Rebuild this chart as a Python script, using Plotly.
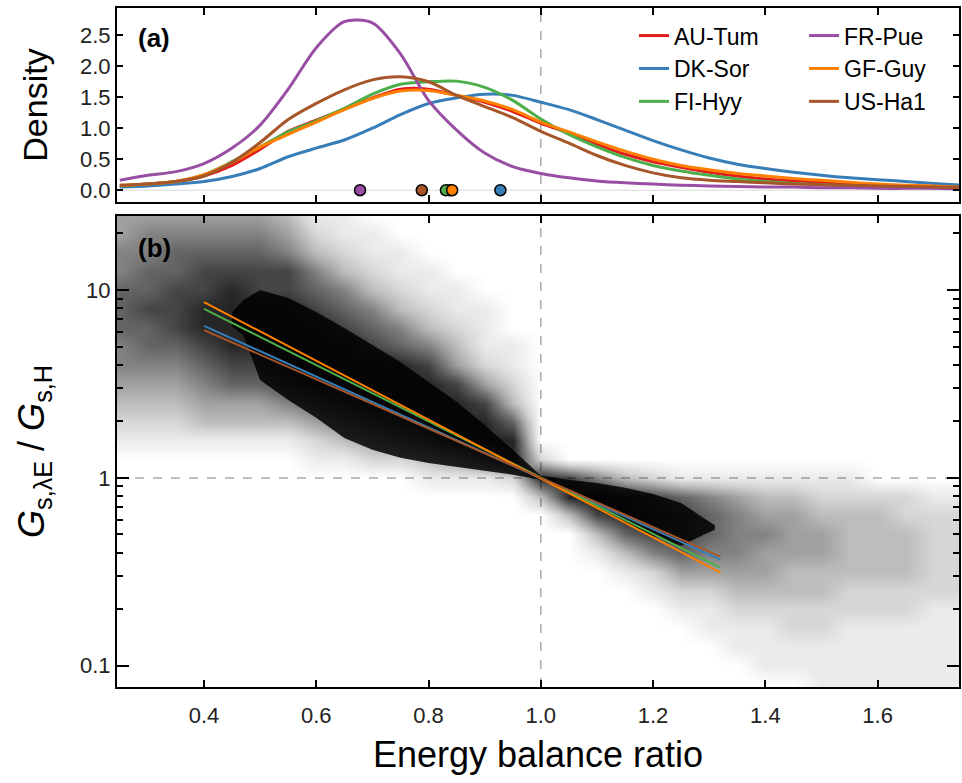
import plotly.graph_objects as go

# ---- sites and colours -------------------------------------------------
sites = ["AU-Tum", "DK-Sor", "FI-Hyy", "FR-Pue", "GF-Guy", "US-Ha1"]
site_colors = ["#e41a1c", "#377eb8", "#4daf4a", "#984ea3", "#ff7f00", "#a65628"]

# ---- (a) density of the energy balance ratio ---------------------------
ebr_grid = [0.25, 0.30, 0.35, 0.40, 0.45, 0.50, 0.55, 0.60, 0.65, 0.70, 0.75,
            0.80, 0.85, 0.90, 0.95, 1.00, 1.05, 1.10, 1.15, 1.20, 1.25, 1.30,
            1.35, 1.40, 1.45, 1.50, 1.55, 1.60, 1.65, 1.70, 1.75]

dens_au_tum = [0.07, 0.10, 0.14, 0.23, 0.40, 0.66, 0.95, 1.13, 1.31, 1.49, 1.63,
               1.63, 1.53, 1.42, 1.27, 1.08, 0.92, 0.74, 0.58, 0.46, 0.37, 0.29,
               0.23, 0.18, 0.15, 0.13, 0.11, 0.09, 0.07, 0.06, 0.05]
dens_dk_sor = [0.05, 0.07, 0.10, 0.14, 0.22, 0.35, 0.54, 0.68, 0.81, 1.00, 1.22,
               1.40, 1.49, 1.55, 1.53, 1.42, 1.30, 1.14, 0.97, 0.80, 0.65, 0.52,
               0.42, 0.35, 0.29, 0.24, 0.20, 0.17, 0.14, 0.11, 0.08]
dens_fi_hyy = [0.07, 0.10, 0.14, 0.25, 0.46, 0.70, 0.94, 1.12, 1.32, 1.55, 1.71,
               1.75, 1.76, 1.66, 1.45, 1.15, 0.90, 0.70, 0.53, 0.40, 0.31, 0.24,
               0.18, 0.14, 0.11, 0.09, 0.07, 0.06, 0.05, 0.04, 0.03]
dens_fr_pue = [0.16, 0.24, 0.30, 0.43, 0.68, 1.05, 1.63, 2.30, 2.72, 2.70, 2.20,
               1.45, 0.97, 0.60, 0.38, 0.27, 0.20, 0.15, 0.12, 0.10, 0.08, 0.07,
               0.06, 0.05, 0.05, 0.04, 0.04, 0.03, 0.03, 0.03, 0.02]
dens_gf_guy = [0.08, 0.10, 0.14, 0.25, 0.45, 0.70, 0.90, 1.10, 1.30, 1.48, 1.60,
               1.61, 1.53, 1.44, 1.30, 1.10, 0.94, 0.78, 0.63, 0.50, 0.40, 0.33,
               0.27, 0.23, 0.19, 0.16, 0.13, 0.10, 0.08, 0.07, 0.05]
dens_us_ha1 = [0.08, 0.10, 0.14, 0.23, 0.45, 0.77, 1.14, 1.40, 1.62, 1.78, 1.83,
               1.75, 1.53, 1.35, 1.17, 0.95, 0.76, 0.56, 0.40, 0.28, 0.20, 0.16,
               0.14, 0.12, 0.10, 0.09, 0.08, 0.07, 0.06, 0.05, 0.05]
densities = [dens_au_tum, dens_dk_sor, dens_fi_hyy, dens_fr_pue, dens_gf_guy, dens_us_ha1]

# site means of the energy balance ratio (dots on the zero line)
mean_ebr = [0.838, 0.928, 0.831, 0.678, 0.842, 0.788]

# ---- (b) conductance ratio vs energy balance ratio ---------------------
# point density of the half-hourly cloud, 0 (empty) .. 9 (saturated);
# columns: energy balance ratio 0.25 .. 1.75 step 0.05 (trailing zeros omitted),
# rows: log10 of the conductance ratio from 1.4 (top) down to -1.1
cloud_ebr = ebr_grid
cloud_log_ratio = [1.4, 1.3, 1.2, 1.1, 1.0, 0.9, 0.8, 0.7, 0.6, 0.5, 0.4, 0.3, 0.2,
                   0.1, 0.0, -0.1, -0.2, -0.3, -0.4, -0.5, -0.6, -0.7, -0.8, -0.9,
                   -1.0, -1.1]
cloud_density_rows = [
    "4444443110",
    "4555554211",
    "55666653211",
    "566777753211",
    "6677877653211",
    "677888876532110",
    "667888887653210",
    "566788888765311",
    "555677888887421",
    "444566788888742",
    "333444567888873",
    "222333345678886",
    "111111123456888",
    "0000000112234682",
    "0000000000011128753211111110000",
    "0000000000000003898765433222211",
    "0000000000000000378876544333222",
    "0000000000000000036776554433322",
    "0000000000000000013565544433322",
    "0000000000000000001244443333322",
    "0000000000000000000122333322222",
    "0000000000000000000011222222211",
    "0000000000000000000001112211111",
    "0000000000000000000000111111111",
    "0000000000000000000000011111111",
    "0000000000000000000000000111111",
]

# saturated core of the cloud (upper / lower edge)
core_ebr = [0.45, 0.47, 0.50, 0.55, 0.60, 0.65, 0.70, 0.75, 0.80, 0.85, 0.90, 0.95,
            1.00, 1.05, 1.10, 1.15, 1.20, 1.25, 1.29, 1.31]
core_hi = [7.6, 8.85, 10.0, 9.07, 7.64, 6.28, 5.10, 4.14, 3.24, 2.54, 1.91, 1.41,
           1.025, 0.976, 0.94, 0.885, 0.82, 0.736, 0.612, 0.56]
core_lo = [6.4, 5.76, 3.32, 2.60, 2.09, 1.63, 1.41, 1.28, 1.20, 1.14, 1.09, 1.04,
           0.976, 0.82, 0.68, 0.57, 0.491, 0.435, 0.498, 0.53]

# per-site fitted lines (end points), drawn on top of the cloud
fit_x = [0.40, 1.32]
fit_dk_sor = [6.45, 0.367]
fit_fi_hyy = [7.93, 0.333]
fit_gf_guy = [8.63, 0.313]
fit_us_ha1 = [6.12, 0.381]
fit_lines = [(fit_dk_sor, "#377eb8"), (fit_fi_hyy, "#4daf4a"),
             (fit_gf_guy, "#ff7f00"), (fit_us_ha1, "#a65628")]

FONT = "Liberation Sans, Arial, sans-serif"

fig = go.Figure()

# panel (b): cloud density, bottom row first
n_cols = len(cloud_ebr)
z_rows = [[int(c) for c in row.ljust(n_cols, "0")] for row in cloud_density_rows][::-1]
y_rows = [10 ** v for v in cloud_log_ratio][::-1]
level_alpha = [0, 0.08, 0.16, 0.26, 0.37, 0.49, 0.61, 0.73, 0.85, 0.95]
cloud_scale = [[i / 9, f"rgba(0,0,0,{a})"] for i, a in enumerate(level_alpha)]
fig.add_trace(go.Heatmap(
    x=cloud_ebr, y=y_rows, z=z_rows, zmin=0, zmax=9, zsmooth="best",
    colorscale=cloud_scale, showscale=False, hoverinfo="skip",
    xaxis="x", yaxis="y"))

fig.add_trace(go.Scatter(
    x=core_ebr + core_ebr[::-1], y=core_hi + core_lo[::-1],
    mode="lines", fill="toself", line=dict(width=0),
    fillcolor="rgba(0,0,0,0.85)", hoverinfo="skip", showlegend=False,
    xaxis="x", yaxis="y"))

for vals, col in fit_lines:
    fig.add_trace(go.Scatter(x=fit_x, y=vals, mode="lines",
                             line=dict(color=col, width=2),
                             showlegend=False, xaxis="x", yaxis="y"))

# panel (a): density curves
for i, (name, col, dens) in enumerate(zip(sites, site_colors, densities)):
    fig.add_trace(go.Scatter(
        x=ebr_grid, y=dens, mode="lines", name=name,
        line=dict(color=col, width=3, shape="spline", smoothing=0.8),
        legend="legend" if i < 3 else "legend2",
        xaxis="x2", yaxis="y2"))

# mean markers, drawn so that the orange one sits on top
for idx in [3, 5, 0, 2, 4, 1]:
    fig.add_trace(go.Scatter(
        x=[mean_ebr[idx]], y=[0], mode="markers",
        marker=dict(size=11, color=site_colors[idx], line=dict(color="black", width=1.5)),
        showlegend=False, cliponaxis=False, xaxis="x2", yaxis="y2"))

axis_common = dict(showline=True, linecolor="black", linewidth=2, mirror="allticks",
                   ticks="inside", tickcolor="black", tickwidth=1.5,
                   showgrid=False, zeroline=False,
                   tickfont=dict(family=FONT, size=22, color="#222"))

tick_x = [0.4, 0.6, 0.8, 1.0, 1.2, 1.4, 1.6]
legend_style = dict(xanchor="left", yanchor="top", bgcolor="rgba(0,0,0,0)",
                    font=dict(family=FONT, size=23), tracegroupgap=0, itemwidth=30)

fig.update_layout(
    width=962, height=783,
    margin=dict(l=117, r=1, t=8, b=96),
    paper_bgcolor="white", plot_bgcolor="white",
    font=dict(family=FONT, color="black"),
    xaxis=dict(domain=[0, 1], anchor="y", range=[0.245, 1.745], tickvals=tick_x,
               tickformat=".1f", ticklen=7, ticklabelstandoff=8,
               title=dict(text="Energy balance ratio", font=dict(size=36), standoff=14),
               **axis_common),
    xaxis2=dict(domain=[0, 1], anchor="y2", matches="x", range=[0.245, 1.745],
                tickvals=tick_x, showticklabels=False, ticklen=7, **axis_common),
    yaxis=dict(domain=[0, 0.6937], anchor="x", type="log", range=[-1.113, 1.394],
               tickvals=[0.1, 1, 10], ticktext=["0.1", "1", "10"], ticklen=12,
               minor=dict(tickvals=[0.2, 0.3, 0.4, 0.5, 0.6, 0.7, 0.8, 0.9,
                                    2, 3, 4, 5, 6, 7, 8, 9, 20],
                          ticks="inside", ticklen=6, tickcolor="black", tickwidth=1.5,
                          showgrid=False),
               title=dict(text="<i>G</i><sub>s,λE</sub> / <i>G</i><sub>s,H</sub>",
                          font=dict(size=36), standoff=24),
               **axis_common),
    yaxis2=dict(domain=[0.7143, 1], anchor="x2", range=[-0.19, 2.94],
                tickvals=[0, 0.5, 1.0, 1.5, 2.0, 2.5], tickformat=".1f", ticklen=6,
                title=dict(text="Density", font=dict(size=34), standoff=22),
                **axis_common),
    legend=dict(x=0.614, y=0.991, **legend_style),
    legend2=dict(x=0.816, y=0.991, **legend_style),
    shapes=[
        dict(type="line", xref="x2", yref="y2", x0=0.245, x1=1.745, y0=0, y1=0,
             line=dict(color="#d9d9d9", width=1), layer="below"),
        dict(type="line", xref="x2", yref="y2 domain", x0=1, x1=1, y0=0, y1=1,
             line=dict(color="#aaaaaa", width=1.5, dash="dash"), layer="below"),
        dict(type="line", xref="x", yref="y domain", x0=1, x1=1, y0=0, y1=1,
             line=dict(color="#aaaaaa", width=1.5, dash="dash"), layer="below"),
        dict(type="line", xref="x domain", yref="y", x0=0, x1=1, y0=1, y1=1,
             line=dict(color="#aaaaaa", width=1.5, dash="dash"), layer="below"),
    ],
    annotations=[
        dict(text="<b>(a)</b>", xref="x domain", yref="y2 domain", x=0.044, y=0.845,
             xanchor="center", yanchor="middle", showarrow=False,
             font=dict(family=FONT, size=26)),
        dict(text="<b>(b)</b>", xref="x domain", yref="y domain", x=0.044, y=0.932,
             xanchor="center", yanchor="middle", showarrow=False,
             font=dict(family=FONT, size=26)),
    ],
)

fig.write_html("out.html")
